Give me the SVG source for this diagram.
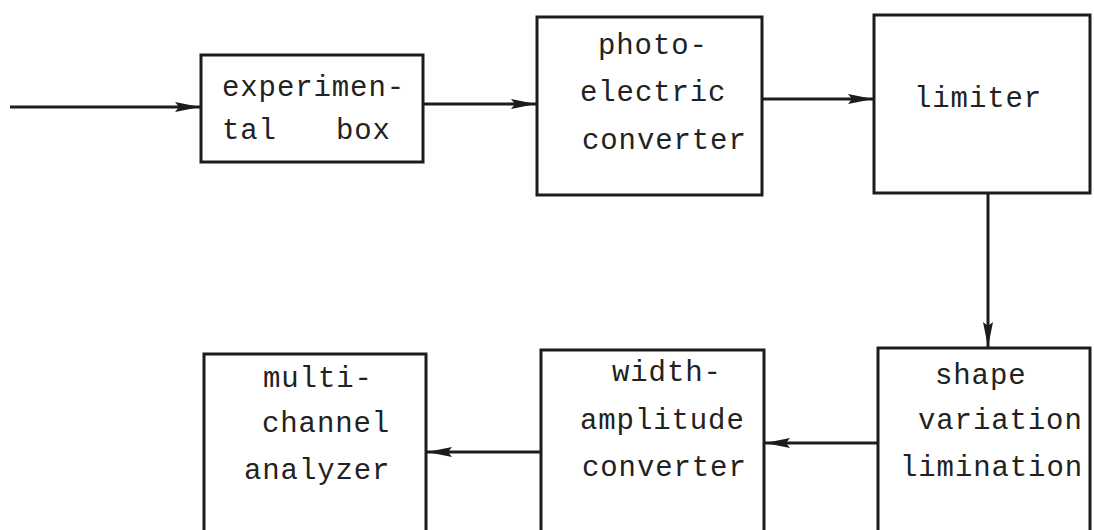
<svg xmlns="http://www.w3.org/2000/svg" width="1094" height="530" viewBox="0 0 1094 530">
<style>
.box{fill:#fff;stroke:#1c1c1c;stroke-width:3}
.conn{fill:none;stroke:#1c1c1c;stroke-width:3}
.t{font-family:"Liberation Mono","Courier New",monospace;font-size:29px;letter-spacing:0.9px;fill:#222}
</style>
<defs>
<marker id="ah" markerUnits="userSpaceOnUse" markerWidth="32" markerHeight="14" viewBox="-29 -7 32 14" refX="0" refY="0" orient="auto">
<path d="M-25,-5 L0,0 L-25,5 L-21,0 z" fill="#1c1c1c"/>
</marker>
</defs>
<rect width="1094" height="530" fill="#fff"/>
<g id="connectors">
<path class="conn" d="M10,107 L200,107" marker-end="url(#ah)"/>
<path class="conn" d="M423,104 L536,104" marker-end="url(#ah)"/>
<path class="conn" d="M762,99 L873,99" marker-end="url(#ah)"/>
<path class="conn" d="M988,193 L988,347" marker-end="url(#ah)"/>
<path class="conn" d="M878,443 L765,443" marker-end="url(#ah)"/>
<path class="conn" d="M541,452 L427,452" marker-end="url(#ah)"/>
</g>
<g id="experimental-box">
<rect class="box" x="201" y="55" width="222" height="107"/>
<text class="t" x="222" y="96">experimen-</text>
<text class="t" y="139"><tspan x="222">tal</tspan><tspan x="336">box</tspan></text>
</g>
<g id="photoelectric-converter">
<rect class="box" x="537" y="17" width="225" height="178"/>
<text class="t" x="598" y="54">photo-</text>
<text class="t" x="580" y="101">electric</text>
<text class="t" x="582" y="149">converter</text>
</g>
<g id="limiter">
<rect class="box" x="874" y="15" width="216" height="178"/>
<text class="t" x="914" y="107">limiter</text>
</g>
<g id="shape-variation-limination">
<rect class="box" x="878" y="348" width="212" height="200"/>
<text class="t" x="935" y="384">shape</text>
<text class="t" x="918" y="429">variation</text>
<text class="t" x="900" y="476">limination</text>
</g>
<g id="width-amplitude-converter">
<rect class="box" x="541" y="350" width="223" height="200"/>
<text class="t" x="612" y="381">width-</text>
<text class="t" x="580" y="429">amplitude</text>
<text class="t" x="582" y="476">converter</text>
</g>
<g id="multi-channel-analyzer">
<rect class="box" x="204" y="354" width="222" height="200"/>
<text class="t" x="263" y="387">multi-</text>
<text class="t" x="262" y="432">channel</text>
<text class="t" x="244" y="479">analyzer</text>
</g>
</svg>
